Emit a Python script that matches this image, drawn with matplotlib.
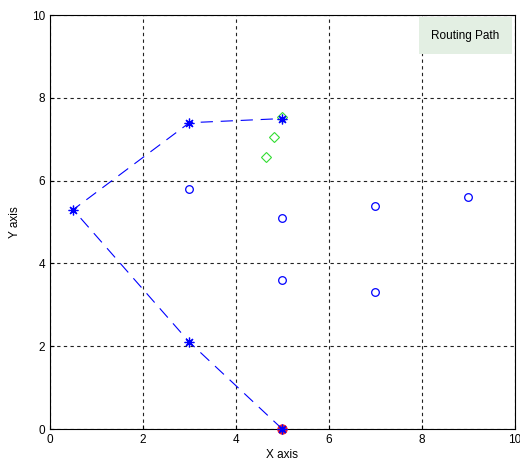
import matplotlib.pyplot as plt
from matplotlib.patches import Rectangle

# routing path (source at (5,0), sink at (5,7.5))
path_x = [5, 3, 0.5, 3, 5]
path_y = [0, 2.1, 5.3, 7.4, 7.5]

# other sensor nodes
node_x = [3, 5, 5, 7, 7, 9]
node_y = [5.8, 5.1, 3.6, 5.4, 3.3, 5.6]

# neighbouring nodes near the sink
near_x = [4.65, 4.83, 5.0]
near_y = [6.58, 7.05, 7.55]

plt.rcParams['font.family'] = ['Liberation Sans', 'DejaVu Sans']

fig = plt.figure(figsize=(5.2, 4.71), dpi=100)
ax = fig.add_axes([0.096, 0.089, 0.894, 0.879])

ax.plot(path_x, path_y, color='blue', linestyle=(0, (11, 7)), linewidth=0.8)
ax.plot(near_x, near_y, linestyle='none', marker='D', markersize=5,
        markerfacecolor='none', markeredgecolor='#33dd33', markeredgewidth=0.8)
ax.plot(node_x, node_y, linestyle='none', marker='o', markersize=5.5,
        markerfacecolor='none', markeredgecolor='blue', markeredgewidth=0.9)
ax.plot(path_x[0], path_y[0], linestyle='none', marker='o', markersize=6.5,
        color='#ff2020', clip_on=False, zorder=5)
ax.plot(path_x, path_y, linestyle='none', marker=(8, 2, 0), markersize=7,
        color='blue', markeredgewidth=0.9, clip_on=False, zorder=6)

ax.set_xlim(0, 10)
ax.set_ylim(0, 10)
ax.set_xticks([0, 2, 4, 6, 8, 10])
ax.set_yticks([0, 2, 4, 6, 8, 10])
ax.grid(True, color='#222222', linestyle=(0, (3, 3)), linewidth=0.8)
ax.tick_params(direction='in', length=3, labelsize=8.5, color='black')
for s in ax.spines.values():
    s.set_linewidth(0.8)

ax.set_xlabel('X axis', fontsize=8.5, labelpad=2)
ax.set_ylabel('Y axis', fontsize=8.5, labelpad=8)

# legend box, top right
ax.add_patch(Rectangle((0.793, 0.905), 0.2, 0.09, transform=ax.transAxes,
                       facecolor='#e3efe3', edgecolor='none', zorder=3))
ax.text(0.893, 0.95, 'Routing Path', transform=ax.transAxes, fontsize=8.5,
        ha='center', va='center', zorder=4)

fig.savefig('out.png', dpi=100)
